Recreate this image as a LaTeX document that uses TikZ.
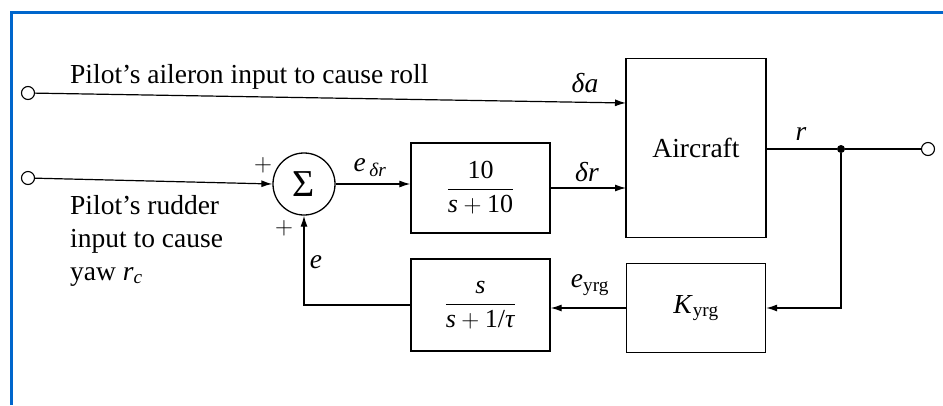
\documentclass[tikz,border=0pt]{standalone}
\usepackage{amsmath}
\usepackage{fontspec}
\setmainfont{Liberation Serif}
\usetikzlibrary{arrows.meta,calc}
\definecolor{frameblue}{RGB}{0,102,204}
\begin{document}
\begin{tikzpicture}[x=1pt,y=-1pt,
  font=\fontsize{27.5}{32}\selectfont,
  blk/.style={draw,line width=1.3pt,inner sep=0pt},
  frac/.style={blk,font=\fontsize{26}{30}\selectfont},
  wire/.style={line width=1.2pt},
  arr/.style={wire,-{Latex[length=11pt,width=7pt]}},
  port/.style={circle,draw,line width=1.1pt,fill=white,minimum size=13pt,inner sep=0pt},
  lbl/.style={inner sep=0pt},
  sgn/.style={inner sep=0pt,font=\fontsize{24}{28}\selectfont}]
\useasboundingbox (0,0) rectangle (943,405);
\fill[white] (0,0) rectangle (943,405);
% frame
\draw[frameblue,line width=3pt] (11,405) -- (11,12.5) -- (943,12.5);
% blocks
\node[blk,minimum width=140pt,minimum height=179pt] (air) at (696,148) {Aircraft};
\node[frac,minimum width=139pt,minimum height=90pt] (g1) at (480.5,188)
  {$\displaystyle\frac{\text{10}}{\text{\textit{s}} + \text{10}}$};
\node[frac,minimum width=139pt,minimum height=92pt] (g2) at (480.5,305)
  {$\displaystyle\frac{\text{\textit{s}}}{\text{\textit{s}} + \text{1/\textit{τ}}}$};
\node[blk,minimum width=139pt,minimum height=89pt] (K) at (696,308)
  {\textit{K}$_{\text{yrg}}$};
\node[circle,draw,line width=1.3pt,minimum size=62pt,inner sep=0pt,
  font=\fontsize{38}{42}\selectfont] (sum) at (304,184) {Σ};
% ports
\node[port] (in1) at (28,93) {};
\node[port] (in2) at (28,178) {};
\node[port] (out) at (928,149) {};
\node[circle,fill,minimum size=8pt,inner sep=0pt] (dot) at (841,149) {};
\coordinate (da) at (626,103);
\coordinate (dr) at (626,188);
% connectors
\draw[arr] (in1) -- (da);
\draw[arr] (in2) -- (sum.west);
\draw[arr] (sum.east) -- (sum.east -| g1.west);
\draw[arr] (g1.east) -- (dr);
\draw[wire] (air.east |- dot) -- (dot) -- (out);
\draw[arr] (dot) |- (K.east);
\draw[arr] (K.west) -- (K.west -| g2.east);
\draw[arr] (g2.west) -| (sum.south);
% labels
\node[lbl,anchor=base west] (t1) at (70,83) {Pilot’s aileron input to cause roll};
\node[lbl,anchor=base west] (t2) at (70,214) {Pilot’s rudder};
\node[lbl,anchor=base west] (t3) at (70,247) {input to cause};
\node[lbl,anchor=base west] (t4) at (70,280) {yaw \textit{r}$_{\text{\textit{c}}}$};
\node[lbl] (lda) at (585,83) {\textit{δa}};
\node[lbl] (ldr) at (587,172) {\textit{δr}};
\node[lbl] (lr) at (801,134) {\textit{r}};
\node[lbl] (leyrg) at (590,285) {\textit{e}$_{\text{yrg}}$};
\node[lbl] (le) at (316,262) {\textit{e}};
\node[lbl] (ledr) at (370,168) {\textit{e}$_{\,\text{\textit{δr}}}$};
\node[sgn] (p1) at (263,165) {$+$};
\node[sgn] (p2) at (284,228) {$+$};
\end{tikzpicture}
\end{document}
